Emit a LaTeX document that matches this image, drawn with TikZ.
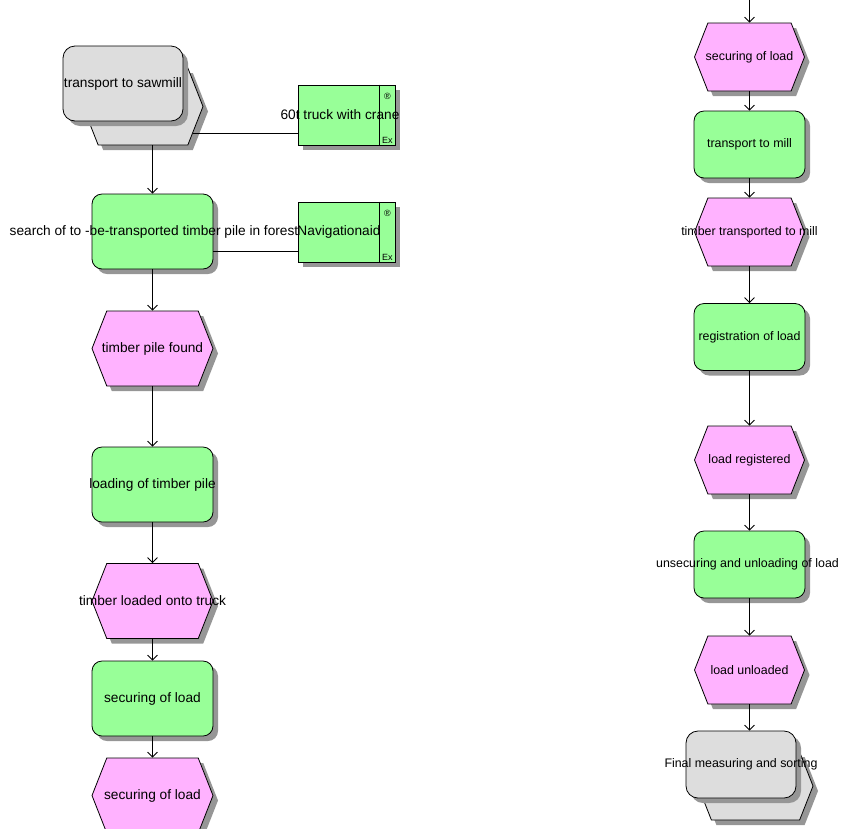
\documentclass[tikz,border=0pt]{standalone}
\usepackage{fontspec}
\setmainfont{Liberation Sans}
\usetikzlibrary{shapes.symbols,shadows,arrows.meta,calc}
\definecolor{fgreen}{RGB}{152,255,152}
\definecolor{epink}{RGB}{255,178,255}
\definecolor{pgrey}{RGB}{221,221,221}
\definecolor{shgrey}{RGB}{150,150,150}
\begin{document}
\begin{tikzpicture}[x=1pt,y=-1pt,
  lbl/.style={font=\fontsize{13.7}{15}\selectfont, inner sep=0pt},
  lblr/.style={font=\fontsize{12.4}{14}\selectfont, inner sep=0pt},
  sym/.style={font=\fontsize{9}{10}\selectfont, inner sep=0pt},
  base/.style={draw=black, line width=0.8pt, inner sep=0pt,
    drop shadow={shadow xshift=5pt, shadow yshift=-5pt, fill=shgrey, opacity=1}},
  fn/.style={base, fill=fgreen, rectangle, rounded corners=10pt,
    minimum width=121pt, minimum height=75pt},
  fnr/.style={fn, minimum width=111pt, minimum height=67pt},
  ev/.style={base, fill=epink, signal, signal to=west and east,
    signal pointer angle=137, minimum width=121pt, minimum height=75pt},
  evr/.style={ev, minimum width=110pt, minimum height=68pt},
  res/.style={base, fill=fgreen, rectangle, minimum width=97pt, minimum height=60pt},
  pihex/.style={base, fill=pgrey, signal, signal to=west and east,
    signal pointer angle=137, minimum width=120pt, minimum height=77pt},
  pirect/.style={base, fill=pgrey, rectangle, rounded corners=12pt,
    minimum width=120pt, minimum height=75pt},
  conn/.style={draw, line width=0.8pt},
  flow/.style={conn, -{Straight Barb[length=5pt,width=10pt]}},
  sep/.style={draw, line width=0.6pt}
]
\useasboundingbox (0,0) rectangle (842,828);

% ---- left column ----
\node[pihex] (pi1b) at (143,106.5) {};
\node[pirect, label={[lbl]center:transport to sawmill}] (pi1) at (123,83.5) {};

\node[res, label={[lbl,xshift=-6.5pt]center:60t truck with crane}] (R1) at (346.5,115) {};
\draw[sep] ($(R1.north east)+(-16,0)$) -- ($(R1.south east)+(-16,0)$);
\node[sym] (R1r) at ($(R1.north east)+(-8,12)$) {®};
\node[sym] (R1x) at ($(R1.south east)+(-8,-5)$) {Ex};

\node[fn, label={[lbl,xshift=1.5pt]center:search of to -be-transported timber pile in forest}] (f1) at (152.5,231.5) {};

\node[res, label={[lbl,xshift=-7.5pt]center:Navigationaid}] (R2) at (346.5,232) {};
\draw[sep] ($(R2.north east)+(-16,0)$) -- ($(R2.south east)+(-16,0)$);
\node[sym] (R2r) at ($(R2.north east)+(-8,12)$) {®};
\node[sym] (R2x) at ($(R2.south east)+(-8,-5)$) {Ex};

\node[ev, label={[lbl]center:timber pile found}] (e1) at (152.5,348.5) {};
\node[fn, label={[lbl]center:loading of timber pile}] (f2) at (152.5,484.5) {};
\node[ev, label={[lbl]center:timber loaded onto truck}] (e2) at (152.5,601) {};
\node[fn, label={[lbl]center:securing of load}] (f3) at (152.5,698.5) {};
\node[ev, label={[lbl]center:securing of load}] (e3) at (152.5,795.5) {};

\draw[conn] (pi1b.-28.8) -- (pi1b.-28.8 -| R1.west);
\path (R2.south west) ++(0,-11) coordinate (r2a);
\draw[conn] (f1.east |- r2a) -- (r2a);

\draw[flow] (pi1b.south -| f1.north) -- (f1.north);
\draw[flow] (f1) -- (e1);
\draw[flow] (e1) -- (f2);
\draw[flow] (f2) -- (e2);
\draw[flow] (e2) -- (f3);
\draw[flow] (f3) -- (e3);

% ---- right column ----
\coordinate (top) at (749.5,0);
\node[evr, label={[lblr]center:securing of load}] (e4) at (749.5,57) {};
\node[fnr, label={[lblr]center:transport to mill}] (f4) at (749.5,144.5) {};
\node[evr, label={[lblr]center:timber transported to mill}] (e5) at (749.5,232) {};
\node[fnr, label={[lblr]center:registration of load}] (f5) at (749.5,337) {};
\node[evr, label={[lblr]center:load registered}] (e6) at (749.5,460) {};
\node[fnr, label={[lblr,xshift=-2pt]center:unsecuring and unloading of load}] (f6) at (749.5,564.5) {};
\node[evr, label={[lblr]center:load unloaded}] (e7) at (749.5,670) {};
\node[pihex, minimum width=115pt, minimum height=68pt] (pi2b) at (755.5,786) {};
\node[pirect, minimum width=110pt, minimum height=67pt,
  label={[lblr]center:Final measuring and sorting}] (pi2) at (741,764.5) {};

\draw[flow] (top) -- (e4.north);
\draw[flow] (e4) -- (f4);
\draw[flow] (f4) -- (e5);
\draw[flow] (e5) -- (f5);
\draw[flow] (f5) -- (e6);
\draw[flow] (e6) -- (f6);
\draw[flow] (f6) -- (e7);
\draw[flow] (e7.south) -- (e7.south |- pi2.north);
\end{tikzpicture}
\end{document}
